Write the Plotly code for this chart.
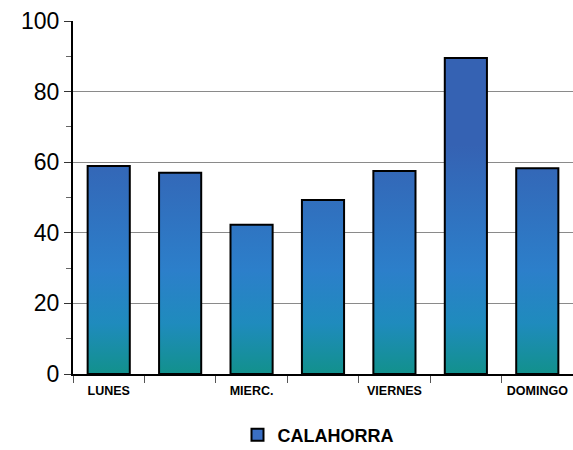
import plotly.graph_objects as go

days = ["LUNES", "MARTES", "MIERC.", "JUEVES", "VIERNES", "SABADO", "DOMINGO"]
values = [58.9, 57.0, 42.3, 49.3, 57.5, 89.5, 58.3]
shown_labels = ["LUNES", "MIERC.", "VIERNES", "DOMINGO"]
series_name = "CALAHORRA"
y_ticks = [0, 20, 40, 60, 80, 100]

bar_w = 0.59
fig = go.Figure()

for i, (d, v) in enumerate(zip(days, values)):
    x0, x1 = i - bar_w / 2, i + bar_w / 2
    fig.add_trace(go.Scatter(
        x=[x0, x0, x1, x1, x0], y=[0, v, v, 0, 0],
        mode="lines", fill="toself",
        line=dict(color="black", width=2),
        fillgradient=dict(type="vertical", start=0, stop=65,
                          colorscale=[[0, "#12918c"], [0.22, "#1f8bbd"],
                                      [0.45, "#2c7fca"], [1, "#3562b3"]]),
        hoverinfo="text", text=f"{d}: {v}",
        showlegend=False,
    ))

fig.add_trace(go.Scatter(
    x=[None], y=[None], mode="markers", name=series_name,
    marker=dict(symbol="square", size=16, color="#3a6fc4",
                line=dict(color="black", width=2)),
))

tick_idx = [days.index(s) for s in shown_labels]

fig.update_layout(
    width=573, height=450,
    margin=dict(l=73, r=0, t=21, b=76, autoexpand=False),
    paper_bgcolor="white", plot_bgcolor="white",
    font=dict(family="Liberation Sans, Arial, sans-serif", color="black"),
    showlegend=True,
    legend=dict(orientation="h", x=0.49, xanchor="center",
                yref="container", y=0.033, yanchor="middle",
                font=dict(size=18, family="Liberation Sans, Arial, sans-serif",
                          weight="bold"),
                itemsizing="constant"),
    xaxis=dict(
        range=[-0.5, 6.5], showgrid=False, zeroline=False,
        tickvals=tick_idx, ticktext=shown_labels, ticks="",
        tickfont=dict(size=12.5, weight="bold"), ticklabelstandoff=4,
        showline=True, linecolor="black", linewidth=1.5,
        minor=dict(tick0=0.5, dtick=1, ticks="outside", ticklen=7,
                   tickcolor="#555", tickwidth=1),
    ),
    yaxis=dict(
        range=[0, 100], tickvals=y_ticks, ticks="outside", ticklen=7,
        tickcolor="#333", tickfont=dict(size=23),
        showgrid=True, gridcolor="#8a8a8a", gridwidth=1, zeroline=False,
        showline=True, linecolor="black", linewidth=2,
        minor=dict(dtick=10, ticks="outside", ticklen=5, tickcolor="#666",
                   showgrid=False),
    ),
)

fig.write_html(
    "out.html",
    config={"displayModeBar": False},
    post_script="document.body.style.margin='0';document.body.style.overflow='hidden';",
)
